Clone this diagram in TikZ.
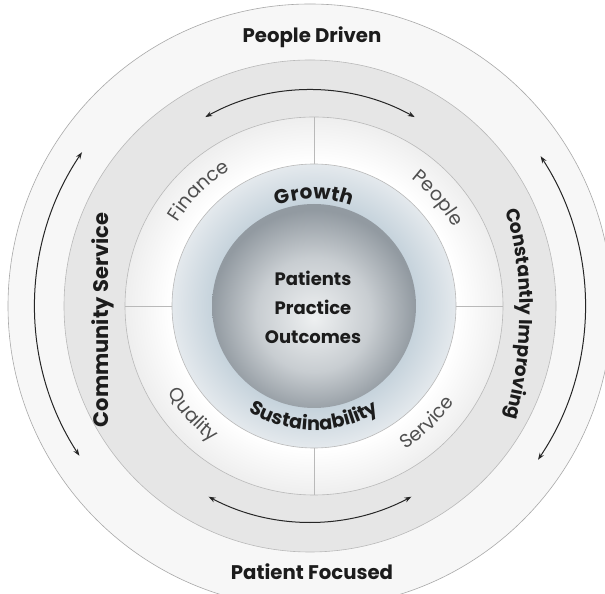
\documentclass[tikz,border=0pt]{standalone}
\usepackage{fontspec}
\setmainfont{Poppins}
\usetikzlibrary{arrows.meta,decorations.text}

\definecolor{ringline}{HTML}{B9B9B9}
\definecolor{outerline}{HTML}{A9A9A9}
\definecolor{outerfill}{HTML}{F7F7F7}
\definecolor{bandfill}{HTML}{E6E6E6}
\definecolor{whitein}{HTML}{FFFFFF}
\definecolor{whiteout}{HTML}{EEEEEE}
\definecolor{bluein}{HTML}{C6D3DC}
\definecolor{blueout}{HTML}{E4E9ED}
\definecolor{sphc}{HTML}{EEF0F1}
\definecolor{sphm}{HTML}{C8CDD1}
\definecolor{sphe}{HTML}{929AA1}
\definecolor{labeldark}{HTML}{1C1C1C}
\definecolor{labelgray}{HTML}{4F4F4F}
\definecolor{arrowcol}{HTML}{262626}

\pgfdeclareradialshading{whitering}{\pgfpoint{0bp}{0bp}}%
  {color(0bp)=(whitein); color(19bp)=(whitein); color(25bp)=(whiteout); color(50bp)=(whiteout)}
\pgfdeclareradialshading{bluering}{\pgfpoint{0bp}{0bp}}%
  {color(0bp)=(bluein); color(18bp)=(bluein); color(25bp)=(blueout); color(50bp)=(blueout)}
\pgfdeclareradialshading{sphereball}{\pgfpoint{0bp}{-3bp}}%
  {color(0bp)=(sphc); color(14bp)=(sphm); color(25bp)=(sphe); color(50bp)=(sphe)}

\newcommand\outerlabelfont{\fontsize{19.7}{23}\selectfont\bfseries}
\newcommand\communityfont{\fontsize{21}{25}\selectfont\bfseries}
\newcommand\improvingfont{\fontsize{18.6}{22}\selectfont\bfseries}
\newcommand\growthfont{\fontsize{20}{24}\selectfont\bfseries}
\newcommand\sustainfont{\fontsize{19.2}{23}\selectfont\bfseries}
\newcommand\centerfont{\fontsize{18}{29}\selectfont\bfseries}
\newcommand\ringlabelfont{\fontsize{19}{22}\selectfont}

\tikzset{
  ringedge/.style={draw=ringline, line width=0.6pt},
  divider/.style={draw=ringline, line width=0.7pt},
  cyclearrow/.style={draw=arrowcol, line width=1pt,
    {Stealth[length=7pt,width=5pt]}-{Stealth[length=7pt,width=5pt]}},
  boldlabel/.style={text=labeldark, inner sep=0pt},
}

\begin{document}
\begin{tikzpicture}[x=1pt, y=1pt]
  \useasboundingbox (0,0) rectangle (605,594);
  \fill[white] (0,0) rectangle (605,594);
  \clip (0,0) rectangle (605,594);

  \coordinate (Co) at (310,288);
  \coordinate (Ci) at (314,288);

  % outer ring and grey band
  \fill[outerfill, draw=outerline, line width=0.6pt] (Co) circle[radius=302];
  \fill[bandfill, ringedge] (Co) circle[radius=246];

  % white ring with quadrant dividers
  \shade[shading=whitering] (Ci) circle[radius=189];
  \draw[ringedge] (Ci) circle[radius=189];
  \begin{scope}[shift={(Ci)}]
    \foreach \a in {0,90,180,270} \draw[divider] (\a:142) -- (\a:189);
  \end{scope}

  % blue ring and central sphere
  \shade[shading=bluering] (Ci) circle[radius=142];
  \draw[ringedge] (Ci) circle[radius=142];
  \shade[shading=sphereball] (Ci) circle[radius=102];

  % cycle arrows
  \begin{scope}[shift={(Co)}]
    \draw[cyclearrow] (119:216) arc[start angle=119, end angle=61, radius=216];
    \draw[cyclearrow] (242:216) arc[start angle=242, end angle=298, radius=216];
    \draw[cyclearrow] (146:275) arc[start angle=146, end angle=213, radius=275];
    \draw[cyclearrow] (33:275) arc[start angle=33, end angle=-34, radius=275];
  \end{scope}

  % outer labels
  \node[boldlabel, font=\outerlabelfont] (driven) at (312,557) {People Driven};
  \node[boldlabel, font=\outerlabelfont] (focused) at (312,22) {Patient Focused};
  \node[boldlabel, font=\communityfont, rotate=90] (community) at (103,274) {Community Service};
  \path[decorate, decoration={text along path, text align=center,
      text={|\improvingfont\color{labeldark}|Constantly Improving}}]
    (130,280) ++(17:390) arc[start angle=17, end angle=-17, radius=390];

  % ring labels
  \begin{scope}[shift={(Ci)}]
    \path[decorate, decoration={text along path, text align=center,
        text={|\ringlabelfont\color{labelgray}|Finance}}]
      (165:160) arc[start angle=165, end angle=105, radius=160];
    \path[decorate, decoration={text along path, text align=center,
        text={|\ringlabelfont\color{labelgray}|People}}]
      (71:160) arc[start angle=71, end angle=11, radius=160];
    \path[decorate, decoration={text along path, text align=center,
        text={|\ringlabelfont\color{labelgray}|Quality}}]
      (192:170) arc[start angle=192, end angle=252, radius=170];
    \path[decorate, decoration={text along path, text align=center,
        text={|\ringlabelfont\color{labelgray}|Service}}]
      (284:170) arc[start angle=284, end angle=344, radius=170];
    \path[decorate, decoration={text along path, text align=center,
        text={|\growthfont\color{labeldark}|Growth}}]
      (140:107) arc[start angle=140, end angle=40, radius=107];
    \path[decorate, decoration={text along path, text align=center,
        text={|\sustainfont\color{labeldark}|Sustainability}}]
      (200:124) arc[start angle=200, end angle=340, radius=124];
  \end{scope}

  % centre text
  \node[font=\centerfont, text=labeldark, align=center] (core) at (313,287)
    {Patients\\Practice\\Outcomes};
\end{tikzpicture}
\end{document}
